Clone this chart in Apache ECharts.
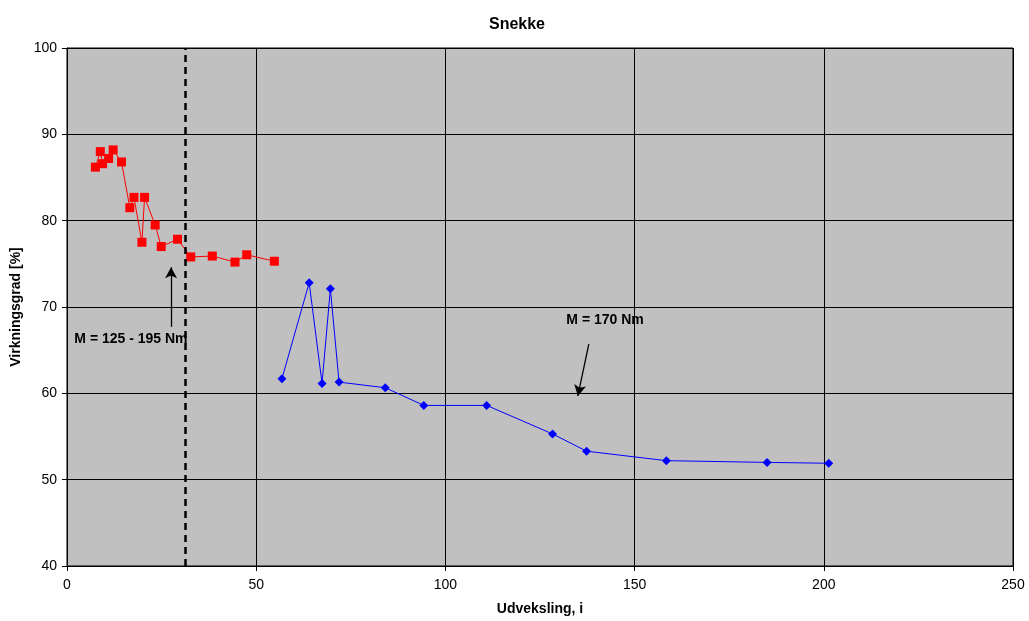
<!DOCTYPE html>
<html><head><meta charset="utf-8">
<script src="https://cdn.jsdelivr.net/npm/echarts@6/dist/echarts.min.js"></script>
<style>html,body{margin:0;padding:0;background:#fff}#c{width:1029px;height:621px}</style>
</head><body><div id="c"></div>
<script>
const redX = [7.5, 8.8, 9.4, 11.0, 12.2, 14.4, 16.6, 17.7, 19.8, 20.5, 23.3, 24.9, 29.2, 32.7, 38.4, 44.4, 47.5, 54.8];
const redY = [86.2, 88.0, 86.6, 87.2, 88.2, 86.8, 81.5, 82.7, 77.5, 82.7, 79.5, 77.0, 77.85, 75.8, 75.9, 75.2, 76.05, 75.3];
const blueX = [56.8, 64.0, 67.4, 69.6, 71.9, 84.1, 94.3, 110.9, 128.3, 137.3, 158.4, 185.0, 201.3];
const blueY = [61.7, 72.8, 61.15, 72.1, 61.3, 60.65, 58.6, 58.6, 55.3, 53.3, 52.2, 52.0, 51.9];
const xTicks = [0, 50, 100, 150, 200, 250];
const yTicks = [40, 50, 60, 70, 80, 90, 100];
const dashedX = 31.2;
const note1 = {text: 'M = 125 - 195 Nm', at: [16.9, 66.3], from: [27.5, 67.7], to: [27.5, 74.6]};
const note2 = {text: 'M = 170 Nm', at: [142.2, 68.5], from: [137.9, 65.7], to: [135.0, 59.7]};

const font = 'Liberation Sans, Arial, sans-serif';
const chart = echarts.init(document.getElementById('c'), null, {renderer: 'canvas'});
const zip = (a, b) => a.map((v, i) => [v, b[i]]);
const arrowLine = n => [{coord: n.from, symbol: 'none'}, {coord: n.to, symbol: 'arrow'}];
chart.setOption({
  animation: false,
  backgroundColor: '#fff',
  title: {text: 'Snekke', left: 512, top: 12, textAlign: 'center',
    textStyle: {fontFamily: font, fontSize: 16, fontWeight: 'bold', color: '#000'}},
  grid: {left: 67, right: 16, top: 48, bottom: 53, show: true, backgroundColor: '#C0C0C0', borderColor: '#000', borderWidth: 1},
  xAxis: {type: 'value', min: xTicks[0], max: xTicks[xTicks.length - 1], interval: 50,
    name: 'Udveksling, i', nameLocation: 'middle', nameGap: 36,
    nameTextStyle: {fontFamily: font, fontSize: 14, fontWeight: 'bold', color: '#000'},
    axisLine: {lineStyle: {color: '#000', width: 1}},
    axisTick: {show: true, length: 5, lineStyle: {color: '#000'}},
    axisLabel: {fontFamily: font, fontSize: 14, color: '#000', margin: 12},
    splitLine: {show: true, lineStyle: {color: '#000', width: 1}}},
  yAxis: {type: 'value', min: yTicks[0], max: yTicks[yTicks.length - 1], interval: 10,
    name: 'Virkningsgrad [%]', nameLocation: 'middle', nameGap: 42, nameRotate: 90,
    nameTextStyle: {fontFamily: font, fontSize: 14, fontWeight: 'bold', color: '#000'},
    axisLine: {show: true, lineStyle: {color: '#000', width: 1}},
    axisTick: {show: true, length: 5, lineStyle: {color: '#000'}},
    axisLabel: {fontFamily: font, fontSize: 14, color: '#000', margin: 10},
    splitLine: {show: true, lineStyle: {color: '#000', width: 1}}},
  series: [
    {type: 'line', data: zip(redX, redY), symbol: 'rect', symbolSize: 9,
      itemStyle: {color: '#FF0000'}, lineStyle: {color: '#FF0000', width: 1},
      markLine: {silent: true, symbol: 'none', animation: false,
        lineStyle: {color: '#000', type: [7, 5], width: 2.5},
        label: {show: false},
        data: [[{coord: [dashedX, 40]}, {coord: [dashedX, 100]}]]},
      markPoint: {silent: true, symbol: 'circle', symbolSize: 0,
        label: {show: true, color: '#000', fontFamily: font, fontSize: 14, fontWeight: 'bold', position: 'inside'},
        data: [{coord: note1.at, value: note1.text}, {coord: note2.at, value: note2.text}]}},
    {type: 'line', data: zip(blueX, blueY), symbol: 'diamond', symbolSize: 9,
      itemStyle: {color: '#0000FF'}, lineStyle: {color: '#0000FF', width: 1},
      markLine: {silent: true, animation: false, symbolSize: [9, 11],
        lineStyle: {color: '#000', type: 'solid', width: 1.3},
        label: {show: false},
        data: [arrowLine(note1), arrowLine(note2)]}}
  ]
});
</script></body></html>
